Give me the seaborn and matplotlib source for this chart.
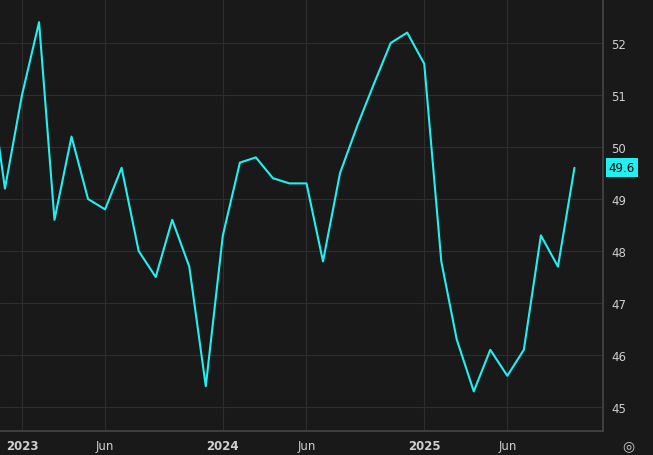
import matplotlib
matplotlib.use("Agg")
import matplotlib.pyplot as plt
import matplotlib.dates as mdates
import seaborn as sns
import pandas as pd
import numpy as np

months = pd.date_range("2022-11-01", "2025-10-01", freq="MS")
values = [51.5, 49.2, 51.0, 52.4, 48.6, 50.2, 49.0, 48.8, 49.6, 48.0, 47.5, 48.6, 47.7,
          45.4, 48.3, 49.7, 49.8, 49.4, 49.3, 49.3, 47.8, 49.5, 50.4, 51.2, 52.0,
          52.2, 51.6, 47.8, 46.3, 45.3, 46.1, 45.6, 46.1, 48.3, 47.7, 49.6]
yticks = [45, 46, 47, 48, 49, 50, 51, 52]
df = pd.DataFrame({"date": months, "value": values})

sns.set_theme(style="dark")
bg = "#191919"
fig = plt.figure(figsize=(6.53, 4.56), dpi=100, facecolor=bg)
ax = fig.add_axes([0, 24/456, 603/653, 432/456], facecolor=bg)
sns.lineplot(data=df, x="date", y="value", ax=ax, color="#22f0f0", linewidth=1.5)

jan23 = mdates.date2num(pd.Timestamp("2023-01-01"))
mpx = 30.44 * 12 / 201  # days per pixel
ax.set_xlim(jan23 - 22 * mpx, jan23 + (603 - 22) * mpx)
ax.set_ylim(45 - 24/52, 52 + 44/52)

ax.yaxis.tick_right()
ax.set_yticks(yticks)
ax.set_yticklabels([str(t) for t in yticks])
xt = [pd.Timestamp(s) for s in ["2023-01-01", "2023-06-01", "2024-01-01", "2024-06-01", "2025-01-01", "2025-06-01"]]
ax.set_xticks(xt)
ax.set_xticklabels(["2023", "Jun", "2024", "Jun", "2025", "Jun"])
for lab in ax.get_xticklabels():
    if lab.get_text().isdigit():
        lab.set_fontweight("bold")
ax.tick_params(colors="#cfcfcf", labelsize=8.5, length=0, pad=6)
ax.grid(True, color="#2e2e2e", linewidth=0.8)
ax.set_xlabel("")
ax.set_ylabel("")
for s in ["top", "left"]:
    ax.spines[s].set_visible(False)
for s in ["right", "bottom"]:
    ax.spines[s].set_color("#444444")

ax.annotate("49.6", xy=(1.0, 49.6), xycoords=("axes fraction", "data"),
            xytext=(4, 0), textcoords="offset points", va="center", ha="left",
            fontsize=8.5, color="black",
            bbox=dict(boxstyle="square,pad=0.25", fc="#22f0f0", ec="none"))
fig.text(628/653, 1 - 446/456, "◎", color="#cfcfcf", fontsize=10, ha="center", va="center")

fig.savefig("out.png", dpi=100, facecolor=bg)
